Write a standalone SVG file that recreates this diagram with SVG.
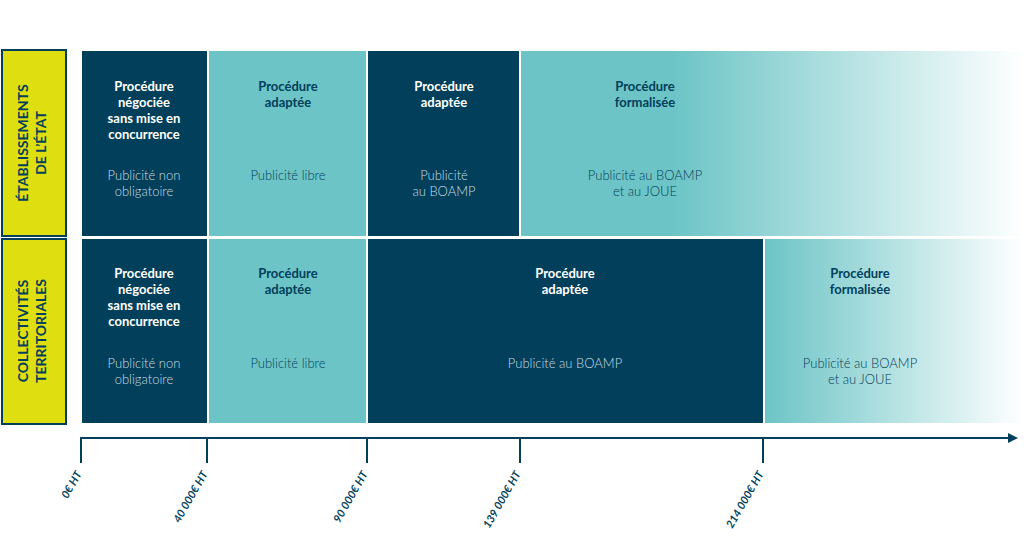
<svg xmlns="http://www.w3.org/2000/svg" width="1024" height="548" viewBox="0 0 1024 548">
<defs>
<linearGradient id="g1" x1="0" x2="1" y1="0" y2="0"><stop offset="0.3" stop-color="#6cc4c6"/><stop offset="1" stop-color="#6cc4c6" stop-opacity="0"/></linearGradient>
<linearGradient id="g2" x1="0" x2="1" y1="0" y2="0"><stop offset="0" stop-color="#6cc4c6"/><stop offset="1" stop-color="#6cc4c6" stop-opacity="0"/></linearGradient>
<marker id="ar" viewBox="0 0 10 10" refX="0" refY="5" markerWidth="5" markerHeight="5" markerUnits="strokeWidth" orient="auto"><path d="M0,0L10,5L0,10z" fill="#023f5a"/></marker>
</defs>
<style>
.d{fill:#023f5a}.t{fill:#6cc4c6}
.h{font-family:Lato,"Open Sans",sans-serif;font-weight:bold;font-size:13px;text-anchor:middle}
.s{font-family:Lato,"Open Sans",sans-serif;font-weight:300;font-size:13px;text-anchor:middle}
.w{fill:#fff}.k{fill:#023f5a}.sw{fill:#c8dde6}
.y{fill:#dede10;stroke:#023f5a;stroke-width:2}
.yl{font-family:Lato,"Open Sans",sans-serif;font-weight:bold;font-size:14px;fill:#023f5a;text-anchor:middle}
.ax{font-family:Lato,"Open Sans",sans-serif;font-weight:bold;font-style:italic;font-size:11px;fill:#023f5a;text-anchor:end}
</style>
<g id="row1-label"><rect class="y" x="2" y="50" width="64" height="186"/><text class="yl" transform="translate(34,143) rotate(-90)"><tspan x="0" y="-6">ÉTABLISSEMENTS</tspan><tspan x="0" y="12">DE L’ÉTAT</tspan></text></g>
<g id="row2-label"><rect class="y" x="2" y="239" width="64" height="185"/><text class="yl" transform="translate(34,331) rotate(-90)"><tspan x="0" y="-6">COLLECTIVITÉS</tspan><tspan x="0" y="12">TERRITORIALES</tspan></text></g>
<g id="r1c1"><rect class="d" x="82" y="51" width="125" height="185"/><text class="h w" x="144" y="91">Procédure<tspan x="144" dy="16">négociée</tspan><tspan x="144" dy="16">sans mise en</tspan><tspan x="144" dy="16">concurrence</tspan></text><text class="s sw" x="144" y="180">Publicité non<tspan x="144" dy="16">obligatoire</tspan></text></g>
<g id="r1c2"><rect class="t" x="209" y="51" width="157" height="185"/><text class="h k" x="288" y="91">Procédure<tspan x="288" dy="16">adaptée</tspan></text><text class="s k" x="288" y="180">Publicité libre</text></g>
<g id="r1c3"><rect class="d" x="368" y="51" width="151" height="185"/><text class="h w" x="444" y="91">Procédure<tspan x="444" dy="16">adaptée</tspan></text><text class="s sw" x="444" y="180">Publicité<tspan x="444" dy="16">au BOAMP</tspan></text></g>
<g id="r1c4"><rect fill="url(#g1)" x="521" y="51" width="503" height="185"/><text class="h k" x="645" y="91">Procédure<tspan x="645" dy="16">formalisée</tspan></text><text class="s k" x="645" y="180">Publicité au BOAMP<tspan x="645" dy="16">et au JOUE</tspan></text></g>
<g id="r2c1"><rect class="d" x="82" y="239" width="125" height="184"/><text class="h w" x="144" y="278">Procédure<tspan x="144" dy="16">négociée</tspan><tspan x="144" dy="16">sans mise en</tspan><tspan x="144" dy="16">concurrence</tspan></text><text class="s sw" x="144" y="368">Publicité non<tspan x="144" dy="16">obligatoire</tspan></text></g>
<g id="r2c2"><rect class="t" x="209" y="239" width="157" height="184"/><text class="h k" x="288" y="278">Procédure<tspan x="288" dy="16">adaptée</tspan></text><text class="s k" x="288" y="368">Publicité libre</text></g>
<g id="r2c3"><rect class="d" x="368" y="239" width="395" height="184"/><text class="h w" x="565" y="278">Procédure<tspan x="565" dy="16">adaptée</tspan></text><text class="s sw" x="565" y="368">Publicité au BOAMP</text></g>
<g id="r2c4"><rect fill="url(#g2)" x="765" y="239" width="259" height="184"/><text class="h k" x="860" y="278">Procédure<tspan x="860" dy="16">formalisée</tspan></text><text class="s k" x="860" y="368">Publicité au BOAMP<tspan x="860" dy="16">et au JOUE</tspan></text></g>
<g id="axis" stroke="#023f5a" stroke-width="2" fill="none">
<line x1="80" y1="438" x2="1008" y2="438" marker-end="url(#ar)"/>
<path d="M81,437V463M207,437V463M367,437V463M520,437V463M763,437V463"/>
</g>
<g id="axis-labels">
<text class="ax" transform="translate(82,474) rotate(-60)">0€ HT</text>
<text class="ax" transform="translate(208,474) rotate(-60)">40 000€ HT</text>
<text class="ax" transform="translate(368,474) rotate(-60)">90 000€ HT</text>
<text class="ax" transform="translate(521,474) rotate(-60)">139 000€ HT</text>
<text class="ax" transform="translate(764,474) rotate(-60)">214 000€ HT</text>
</g>
</svg>
